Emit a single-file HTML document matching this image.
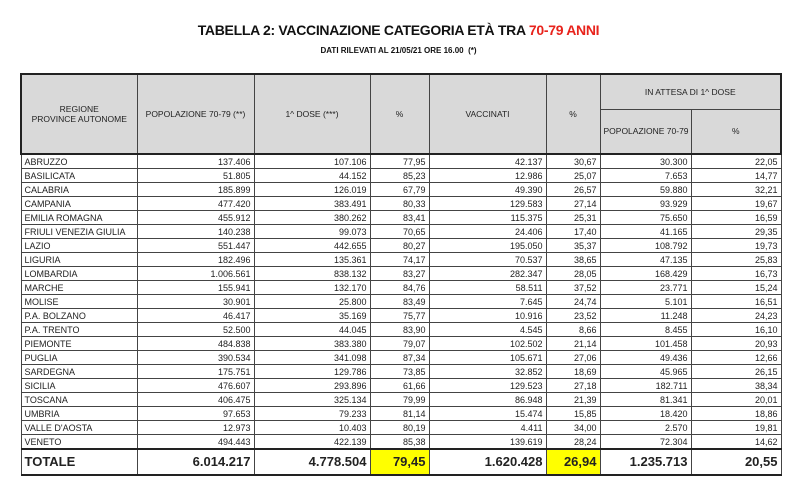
<!DOCTYPE html>
<html><head><meta charset="utf-8">
<style>
body{margin:0;width:797px;height:484px;background:#fff;font-family:"Liberation Sans",sans-serif;overflow:hidden;position:relative}
#title{position:absolute;top:22px;left:0;width:797px;text-align:center;font-weight:bold;font-size:14px;color:#111;letter-spacing:-0.3px}
#title span{color:#e8231c}
#sub{position:absolute;top:46px;left:0;width:797px;text-align:center;font-weight:bold;font-size:8px;color:#111}
table{position:absolute;left:20px;top:73px;width:760px;border-collapse:collapse;table-layout:fixed;font-size:9px;color:#222}
td,th{border:1px solid #444;padding:0 3px;white-space:nowrap;overflow:hidden}
th{background:#d9d9d9;font-weight:normal;font-size:8.5px;text-align:center}
td{height:13px;line-height:12px;text-align:right;padding-top:0;padding-bottom:0}
td:first-child{text-align:left}
thead{border:2px solid #222}
tr.tot td{height:24px;line-height:24px;font-weight:bold;font-size:13px;border-top:2px solid #222;border-bottom:2px solid #222}
.y{background:#ffff00}
</style></head><body>
<div id="title">TABELLA 2: VACCINAZIONE CATEGORIA ETÀ TRA <span>70-79 ANNI</span></div>
<div id="sub">DATI RILEVATI AL 21/05/21 ORE 16.00 &nbsp;(*)</div>
<table>
<colgroup><col style="width:116px"><col style="width:117px"><col style="width:116px"><col style="width:59px"><col style="width:117px"><col style="width:54px"><col style="width:91px"><col style="width:90px"></colgroup>
<thead>
<tr style="height:35px"><th rowspan="2">REGIONE<br>PROVINCE AUTONOME</th><th rowspan="2">POPOLAZIONE 70-79 (**)</th><th rowspan="2">1^ DOSE (***)</th><th rowspan="2">%</th><th rowspan="2">VACCINATI</th><th rowspan="2">%</th><th colspan="2">IN ATTESA DI 1^ DOSE</th></tr>
<tr style="height:45px"><th>POPOLAZIONE 70-79</th><th>%</th></tr>
</thead>
<tbody id="body"></tbody>
</table>
<script>
const regions=["ABRUZZO","BASILICATA","CALABRIA","CAMPANIA","EMILIA ROMAGNA","FRIULI VENEZIA GIULIA","LAZIO","LIGURIA","LOMBARDIA","MARCHE","MOLISE","P.A. BOLZANO","P.A. TRENTO","PIEMONTE","PUGLIA","SARDEGNA","SICILIA","TOSCANA","UMBRIA","VALLE D'AOSTA","VENETO"];
const popolazione=["137.406","51.805","185.899","477.420","455.912","140.238","551.447","182.496","1.006.561","155.941","30.901","46.417","52.500","484.838","390.534","175.751","476.607","406.475","97.653","12.973","494.443"];
const primaDose=["107.106","44.152","126.019","383.491","380.262","99.073","442.655","135.361","838.132","132.170","25.800","35.169","44.045","383.380","341.098","129.786","293.896","325.134","79.233","10.403","422.139"];
const pctDose=["77,95","85,23","67,79","80,33","83,41","70,65","80,27","74,17","83,27","84,76","83,49","75,77","83,90","79,07","87,34","73,85","61,66","79,99","81,14","80,19","85,38"];
const vaccinati=["42.137","12.986","49.390","129.583","115.375","24.406","195.050","70.537","282.347","58.511","7.645","10.916","4.545","102.502","105.671","32.852","129.523","86.948","15.474","4.411","139.619"];
const pctVacc=["30,67","25,07","26,57","27,14","25,31","17,40","35,37","38,65","28,05","37,52","24,74","23,52","8,66","21,14","27,06","18,69","27,18","21,39","15,85","34,00","28,24"];
const attesa=["30.300","7.653","59.880","93.929","75.650","41.165","108.792","47.135","168.429","23.771","5.101","11.248","8.455","101.458","49.436","45.965","182.711","81.341","18.420","2.570","72.304"];
const pctAttesa=["22,05","14,77","32,21","19,67","16,59","29,35","19,73","25,83","16,73","15,24","16,51","24,23","16,10","20,93","12,66","26,15","38,34","20,01","18,86","19,81","14,62"];
const totals=["TOTALE","6.014.217","4.778.504","79,45","1.620.428","26,94","1.235.713","20,55"];
const tb=document.getElementById('body');
regions.forEach((r,i)=>{
  const tr=document.createElement('tr');
  
  
  [r,popolazione[i],primaDose[i],pctDose[i],vaccinati[i],pctVacc[i],attesa[i],pctAttesa[i]].forEach(v=>{
    const td=document.createElement('td');td.textContent=v;
    
    
    tr.appendChild(td);
  });
  tb.appendChild(tr);
});
const tr=document.createElement('tr');tr.className='tot';


totals.forEach((v,j)=>{
  const td=document.createElement('td');td.textContent=v;
  if(j===3||j===5)td.className='y';
  
  
  tr.appendChild(td);
});
tb.appendChild(tr);
</script>
</body></html>
